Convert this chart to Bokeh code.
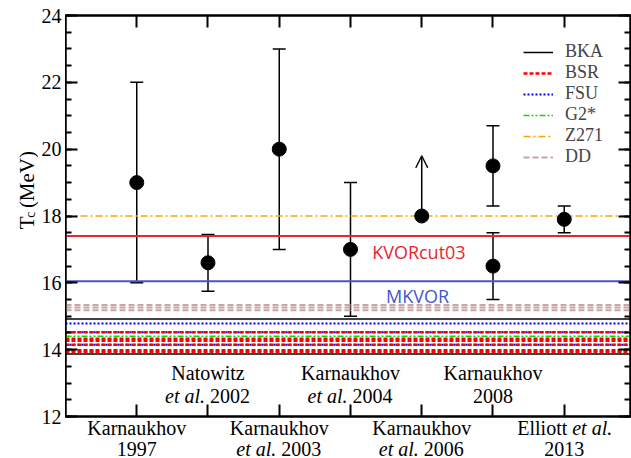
import numpy as np
from bokeh.plotting import figure
from bokeh.layouts import row, column
from bokeh.models import (Range1d, LinearAxis, FixedTicker, Label, Legend, LegendItem,
                          ColumnDataSource, Whisker, TeeHead, Arrow, OpenHead)
from bokeh.core.properties import value
from bokeh.embed import file_html
from bokeh.resources import INLINE

# ---------------- data ----------------
study_name1 = ["Karnaukhov", "Natowitz", "Karnaukhov", "Karnaukhov", "Karnaukhov", "Karnaukhov", "Elliott"]
study_name2 = ["1997", "2002", "2003", "2004", "2006", "2008", "2013"]
study_etal = ["", "line2", "line2", "line2", "line2", "", "line1"]
study_row = ["below", "inside", "below", "inside", "below", "inside", "below"]
study_pos = [1, 2, 3, 4, 5, 6, 7]

pt_x = [1, 2, 3, 4, 5, 6, 6, 7]
pt_tc = [19.0, 16.6, 20.0, 17.0, 18.0, 19.5, 16.5, 17.9]
pt_lo = [16.0, 15.75, 17.0, 15.0, 18.0, 18.3, 15.5, 17.5]
pt_hi = [22.0, 17.45, 23.0, 19.0, 18.0, 20.7, 17.5, 18.3]

limit_x = [5]
limit_from = [18.0]
limit_to = [19.8]

bka_tc = [14.92, 13.87]
bsr_tc = [14.52, 14.33, 14.27, 14.15, 13.98, 13.93]
fsu_tc = [14.78, 14.52, 14.15]
g2_tc = [14.40]
z271_tc = [18.0]
dd_tc = [15.34, 15.26, 15.18]

model_names = ["KVORcut03", "MKVOR"]
model_tc = [17.40, 16.05]
model_colors = ["#e8262e", "#4556c8"]

y_ticks = [12, 14, 16, 18, 20, 22, 24]

# ---------------- layout constants ----------------
XMIN, XMAX = 0.0, 7.93
YMIN, YMAX = 12.0, 24.0
SERIF = "Liberation Serif"
FS = "20px"
TITLE_W = 38
AXIS_W = 27
MAIN_W = 631 - TITLE_W - AXIS_W
MAIN_H = 418
BOT_H = 458 - MAIN_H


def bare(fig):
    fig.grid.visible = False
    fig.background_fill_color = "white"
    fig.border_fill_color = "white"


p = figure(width=MAIN_W, height=MAIN_H, output_backend="svg", toolbar_location=None,
           x_range=Range1d(XMIN, XMAX), y_range=Range1d(YMIN, YMAX),
           x_axis_location=None, y_axis_location=None,
           min_border_left=0, min_border_right=1, min_border_top=15, min_border_bottom=2)
bare(p)
p.outline_line_color = "black"
p.outline_line_width = 2


def style_ticks(ax, kind):
    if kind == "y":
        ax.ticker = FixedTicker(ticks=y_ticks, minor_ticks=list(np.arange(12, 24.01, 0.5)))
    else:
        ax.ticker = FixedTicker(ticks=study_pos, minor_ticks=[])
    ax.axis_line_color = "black"
    ax.axis_line_width = 2
    ax.major_tick_in = 12
    ax.major_tick_out = 0
    ax.minor_tick_in = 6
    ax.minor_tick_out = 0
    ax.major_tick_line_width = 2
    ax.minor_tick_line_width = 2
    ax.major_tick_line_color = "black"
    ax.minor_tick_line_color = "black"
    ax.major_label_text_font_size = "0px"
    ax.major_label_text_alpha = 0
    ax.major_label_standoff = 0


for kind, loc in (("y", "left"), ("y", "right"), ("x", "below"), ("x", "above")):
    ax = LinearAxis()
    style_ticks(ax, kind)
    p.add_layout(ax, loc)


def hlines(vals, color, dash, width):
    return p.segment(x0=[XMIN] * len(vals), x1=[XMAX] * len(vals), y0=vals, y1=vals,
                     line_color=color, line_dash=dash, line_width=width)


# model lines
r_dd = hlines(dd_tc, "#c9a4a4", "6 3", 2)
r_kv = hlines(model_tc, model_colors, "solid", 2)
r_z = hlines(z271_tc, "#ffa500", "7 3 2 3", 1.5)
r_bka = hlines(bka_tc, "black", "solid", 1.5)
r_fsu = hlines(fsu_tc, "#0000ff", "2 2", 2)
r_bsr = hlines(bsr_tc, "#ff0000", "4 2", 2.5)
r_g2 = hlines(g2_tc, "#00e000", "6 2 2 2 2 2", 1.5)

# error bars
src_e = ColumnDataSource(dict(
    x=[x for x, l, h in zip(pt_x, pt_lo, pt_hi) if h > l],
    lo=[l for l, h in zip(pt_lo, pt_hi) if h > l],
    hi=[h for l, h in zip(pt_lo, pt_hi) if h > l]))
wh = Whisker(source=src_e, base="x", lower="lo", upper="hi", dimension="height",
             line_color="black", line_width=1.5,
             upper_head=TeeHead(size=13, line_width=1.5, line_color="black"),
             lower_head=TeeHead(size=13, line_width=1.5, line_color="black"))
p.add_layout(wh)

for xs, a_, b_ in zip(limit_x, limit_from, limit_to):
    p.add_layout(Arrow(end=OpenHead(size=12, line_width=1.3, line_color="black"),
                       x_start=xs, y_start=a_, x_end=xs, y_end=b_,
                       line_width=1.5, line_color="black"))

p.scatter(x=pt_x, y=pt_tc, size=14, marker="circle", fill_color="black", line_color="black")

# model names
name_pos = [(4.96, 16.91), (4.94, 15.62)]
for nm, col, (lx, ly) in zip(model_names, model_colors, name_pos):
    p.add_layout(Label(x=lx, y=ly, text=nm, text_color=col, text_font="Open Sans",
                       text_font_size="18px", text_align="center", text_baseline="middle"))

# legend
legend = Legend(items=[
    LegendItem(label="BKA", renderers=[r_bka]),
    LegendItem(label="BSR", renderers=[r_bsr]),
    LegendItem(label="FSU", renderers=[r_fsu]),
    LegendItem(label="G2*", renderers=[r_g2]),
    LegendItem(label="Z271", renderers=[r_z]),
    LegendItem(label="DD", renderers=[r_dd]),
], location=(458, 249), padding=0, margin=0, spacing=0, glyph_width=30, glyph_height=20,
    label_height=20, label_standoff=12, label_text_font=SERIF, label_text_font_size="18px",
    label_text_baseline="middle", border_line_alpha=0, background_fill_alpha=0)
p.add_layout(legend)

# category labels inside the frame
PX = (YMAX - YMIN) / 401.0
in_y = (24 - (372 - 15) * PX, 24 - (395 - 15) * PX)


def lab(x, y, t, align, off=0, italic=False):
    p.add_layout(Label(x=x, y=y, text=t, text_font=SERIF, text_font_size=FS,
                       text_font_style="italic" if italic else "normal",
                       text_align=align, text_baseline="middle", x_offset=off,
                       text_color="black"))


# bottom strip (labels below the axis)
b = figure(width=MAIN_W, height=BOT_H, output_backend="svg", toolbar_location=None,
           x_range=p.x_range, y_range=Range1d(0, BOT_H),
           x_axis_location=None, y_axis_location=None,
           min_border_left=0, min_border_right=1, min_border_top=0, min_border_bottom=0)
bare(b)
b.outline_line_color = None
bot_y = (458 - 427, 458 - 448)


def blab(x, y, t, align, off=0, italic=False):
    b.text(x=[x], y=[y], text=[t], text_font=value(SERIF), text_font_size=value(FS),
           text_font_style="italic" if italic else "normal", text_align=align,
           text_baseline="middle", x_offset=off, text_color="black")


for xp, n1, n2, et, rw in zip(study_pos, study_name1, study_name2, study_etal, study_row):
    f = lab if rw == "inside" else blab
    y1, y2 = in_y if rw == "inside" else bot_y
    if et == "line2":
        f(xp, y1, n1, "center")
        f(xp, y2, "et al.", "right", -3, True)
        f(xp, y2, n2, "left", 2)
    elif et == "line1":
        f(xp, y1, n1, "right", 3)
        f(xp, y1, "et al.", "left", 8, True)
        f(xp, y2, n2, "center")
    else:
        f(xp, y1, n1, "center")
        f(xp, y2, n2, "center")

# y tick-label strip (library axis sharing the main y range)
a = figure(width=AXIS_W, height=458, output_backend="svg", toolbar_location=None,
           x_range=Range1d(0, 1), y_range=p.y_range,
           x_axis_location=None, y_axis_location=None,
           min_border_left=AXIS_W - 1, min_border_right=0, min_border_top=15, min_border_bottom=42)
bare(a)
a.outline_line_color = None
ya = LinearAxis(ticker=FixedTicker(ticks=y_ticks))
ya.axis_line_color = None
ya.major_tick_in = 0
ya.major_tick_out = 0
ya.minor_tick_in = 0
ya.minor_tick_out = 0
ya.major_tick_line_color = None
ya.minor_tick_line_color = None
ya.major_label_text_font = SERIF
ya.major_label_text_font_size = FS
ya.major_label_text_color = "black"
ya.major_label_standoff = 4
a.add_layout(ya, "left")

# left strip (y axis title: T_c (MeV))
lft = figure(width=TITLE_W, height=458, output_backend="svg", toolbar_location=None,
             x_range=Range1d(0, TITLE_W), y_range=Range1d(0, 458),
             x_axis_location=None, y_axis_location=None,
             min_border_left=0, min_border_right=0, min_border_top=0, min_border_bottom=0)
bare(lft)
lft.outline_line_color = None
title_parts = ["T", "c", "(MeV)"]
title_x = [26, 30, 26]
title_y = [458 - 244, 458 - 231, 458 - 220]
title_fs = ["21px", "14px", "21px"]
for t, tx, ty, fs in zip(title_parts, title_x, title_y, title_fs):
    lft.text(x=[tx], y=[ty], text=[t], angle=np.pi / 2, text_font=value(SERIF),
             text_font_size=value(fs), text_align="left", text_baseline="alphabetic",
             text_color="black")

layout = row(lft, a, column(p, b))
open("out.html", "w").write(file_html(layout, INLINE))
